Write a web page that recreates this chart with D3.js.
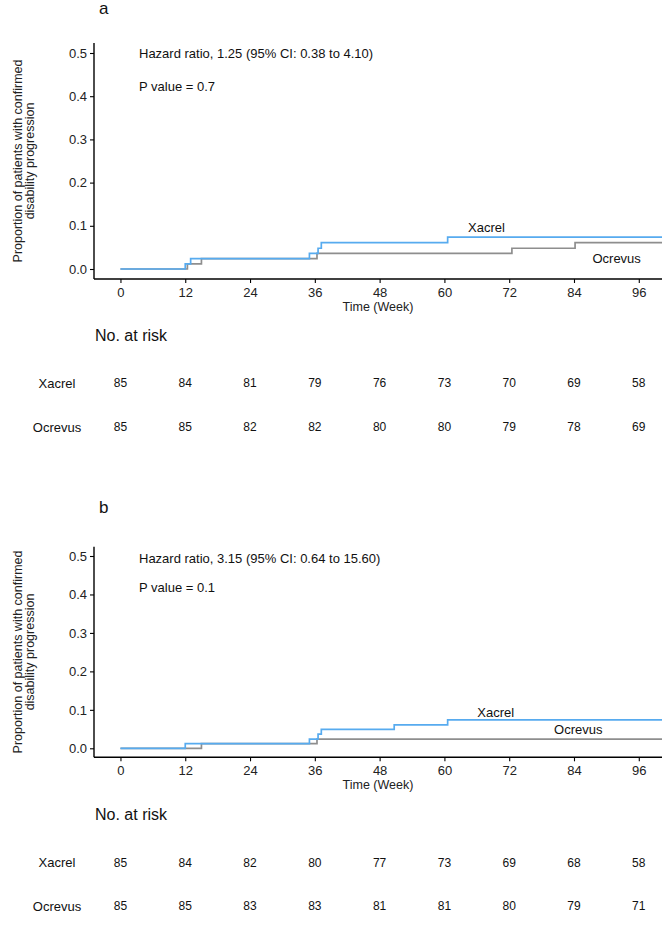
<!DOCTYPE html>
<html>
<head>
<meta charset="utf-8">
<script src="https://cdn.jsdelivr.net/npm/d3@7"></script>
<style>
  html, body { margin: 0; padding: 0; background: #fff; }
  svg { display: block; font-family: "Liberation Sans", Arial, sans-serif; }
</style>
</head>
<body>
<svg id="chart" width="671" height="944"></svg>
<script>
// ---- Data ----
const groups = ["Xacrel", "Ocrevus"];
const timeTicks = [0, 12, 24, 36, 48, 60, 72, 84, 96];
const probTicks = [0.0, 0.1, 0.2, 0.3, 0.4, 0.5];

// Panel a
const aXacrelTime = [0, 12, 13, 35, 36.6, 37.2, 60.6, 100.3];
const aXacrelProb = [0, 0.012, 0.024, 0.036, 0.048, 0.061, 0.074, 0.074];
const aOcrevusTime = [0, 12.4, 15, 36.4, 72.5, 84.2, 100.3];
const aOcrevusProb = [0, 0.012, 0.024, 0.036, 0.048, 0.061, 0.061];
const aRiskXacrel = [85, 84, 81, 79, 76, 73, 70, 69, 58];
const aRiskOcrevus = [85, 85, 82, 82, 80, 80, 79, 78, 69];
const aHazard = "Hazard ratio, 1.25 (95% CI: 0.38 to 4.10)";
const aPValue = "P value = 0.7";

// Panel b
const bXacrelTime = [0, 12, 35, 36.6, 37.2, 50.7, 60.6, 100.3];
const bXacrelProb = [0, 0.012, 0.024, 0.037, 0.049, 0.061, 0.074, 0.074];
const bOcrevusTime = [0, 15, 36.4, 100.3];
const bOcrevusProb = [0, 0.012, 0.024, 0.024];
const bRiskXacrel = [85, 84, 82, 80, 77, 73, 69, 68, 58];
const bRiskOcrevus = [85, 85, 83, 83, 81, 81, 80, 79, 71];
const bHazard = "Hazard ratio, 3.15 (95% CI: 0.64 to 15.60)";
const bPValue = "P value = 0.1";

const colors = { Xacrel: "#57abef", Ocrevus: "#8e8e8e" };

const svg = d3.select("#chart");
const zip = (t, p) => t.map((d, i) => ({ t: d, p: p[i] }));

const panels = [
  {
    letter: "a", letterY: 14,
    top: 43, bottom: 279, y0px: 269, y5px: 53,
    series: { Xacrel: zip(aXacrelTime, aXacrelProb), Ocrevus: zip(aOcrevusTime, aOcrevusProb) },
    labelPos: { Xacrel: [67.8, 0.095], Ocrevus: [91.9, 0.025] },
    hazard: aHazard, pval: aPValue, hazardDy: 0, pDy: 33,
    tickLabelY: 292, xTitleY: 307,
    riskTitleY: 335.7, riskRows: [383.3, 427.3],
    risk: { Xacrel: aRiskXacrel, Ocrevus: aRiskOcrevus }
  },
  {
    letter: "b", letterY: 513.3,
    top: 546.7, bottom: 757.3, y0px: 748.3, y5px: 556,
    series: { Xacrel: zip(bXacrelTime, bXacrelProb), Ocrevus: zip(bOcrevusTime, bOcrevusProb) },
    labelPos: { Xacrel: [69.5, 0.0936], Ocrevus: [84.8, 0.050] },
    hazard: bHazard, pval: bPValue, hazardDy: 2.3, pDy: 31.7,
    tickLabelY: 770, xTitleY: 785,
    riskTitleY: 814, riskRows: [862.7, 906],
    risk: { Xacrel: bRiskXacrel, Ocrevus: bRiskOcrevus }
  }
];

const x = d3.scaleLinear().domain([-4.9, 100.3]).range([94, 662]);

panels.forEach(P => {
  const y = d3.scaleLinear().domain([0, 0.5]).range([P.y0px, P.y5px]);
  const g = svg.append("g");

  // panel letter
  g.append("text").attr("x", 99).attr("y", P.letterY)
    .attr("font-size", 17).attr("fill", "#111").text(P.letter);

  // y axis
  const yAxis = d3.axisLeft(y).tickValues(probTicks).tickFormat(d3.format(".1f")).tickSize(4).tickPadding(3);
  const ya = g.append("g").attr("transform", "translate(94,0)").call(yAxis);
  ya.select(".domain").remove();
  ya.append("line").attr("x1", 0).attr("x2", 0).attr("y1", P.top).attr("y2", P.bottom)
    .attr("stroke", "#000").attr("stroke-width", 1.4);
  ya.selectAll(".tick line").attr("stroke", "#000").attr("stroke-width", 1.1);
  ya.selectAll(".tick text").attr("font-size", 13).attr("fill", "#222")
    .attr("font-family", "Liberation Sans, Arial, sans-serif");

  // x axis
  const xAxis = d3.axisBottom(x).tickValues(timeTicks).tickSize(4).tickPadding(4);
  const xa = g.append("g").attr("transform", `translate(0,${P.bottom})`).call(xAxis);
  xa.select(".domain").remove();
  xa.append("line").attr("x1", 94).attr("x2", 662).attr("y1", 0).attr("y2", 0)
    .attr("stroke", "#000").attr("stroke-width", 1.4);
  xa.selectAll(".tick line").attr("stroke", "#000").attr("stroke-width", 1.1);
  xa.selectAll(".tick text").attr("font-size", 13).attr("fill", "#222")
    .attr("font-family", "Liberation Sans, Arial, sans-serif")
    .attr("y", null).attr("dy", null)
    .attr("transform", `translate(0,${P.tickLabelY - P.bottom})`)
    .attr("dominant-baseline", "central");

  // axis titles
  g.append("text").attr("x", 378).attr("y", P.xTitleY).attr("text-anchor", "middle")
    .attr("dominant-baseline", "central").attr("font-size", 12.5).attr("fill", "#222")
    .text("Time (Week)");
  const cy = (P.top + P.bottom) / 2;
  const yt = g.append("text").attr("transform", `translate(26,${cy}) rotate(-90)`)
    .attr("text-anchor", "middle").attr("font-size", 12.5).attr("fill", "#222");
  yt.append("tspan").attr("x", 0).attr("dy", "-0.35em").text("Proportion of patients with confirmed");
  yt.append("tspan").attr("x", 0).attr("dy", "1.0em").text("disability progression");

  // annotations
  g.append("text").attr("x", 139).attr("y", y(0.5) + P.hazardDy).attr("dominant-baseline", "central")
    .attr("font-size", 13).attr("fill", "#111").text(P.hazard);
  g.append("text").attr("x", 139).attr("y", y(0.5) + P.pDy).attr("dominant-baseline", "central")
    .attr("font-size", 13).attr("fill", "#111").text(P.pval);

  // KM step curves (Ocrevus drawn first, Xacrel on top)
  const line = d3.line().x(d => x(d.t)).y(d => y(d.p)).curve(d3.curveStepAfter);
  ["Ocrevus", "Xacrel"].forEach(k => {
    g.append("path").datum(P.series[k]).attr("d", line)
      .attr("fill", "none").attr("stroke", colors[k]).attr("stroke-width", 1.7);
  });
  groups.forEach(k => {
    const [lt, lp] = P.labelPos[k];
    g.append("text").attr("x", x(lt)).attr("y", y(lp)).attr("text-anchor", "middle")
      .attr("dominant-baseline", "central").attr("font-size", 13).attr("fill", "#111").text(k);
  });

  // risk table
  g.append("text").attr("x", 95).attr("y", P.riskTitleY).attr("dominant-baseline", "central")
    .attr("font-size", 16).attr("fill", "#111").text("No. at risk");
  groups.forEach((k, i) => {
    const ry = P.riskRows[i];
    g.append("text").attr("x", 57).attr("y", ry).attr("text-anchor", "middle")
      .attr("dominant-baseline", "central").attr("font-size", 13).attr("fill", "#111").text(k);
    g.selectAll(null).data(P.risk[k]).enter().append("text")
      .attr("x", (d, j) => x(timeTicks[j])).attr("y", ry)
      .attr("text-anchor", "middle").attr("dominant-baseline", "central")
      .attr("font-size", 12).attr("fill", "#111").text(d => d);
  });
});
</script>
</body>
</html>
